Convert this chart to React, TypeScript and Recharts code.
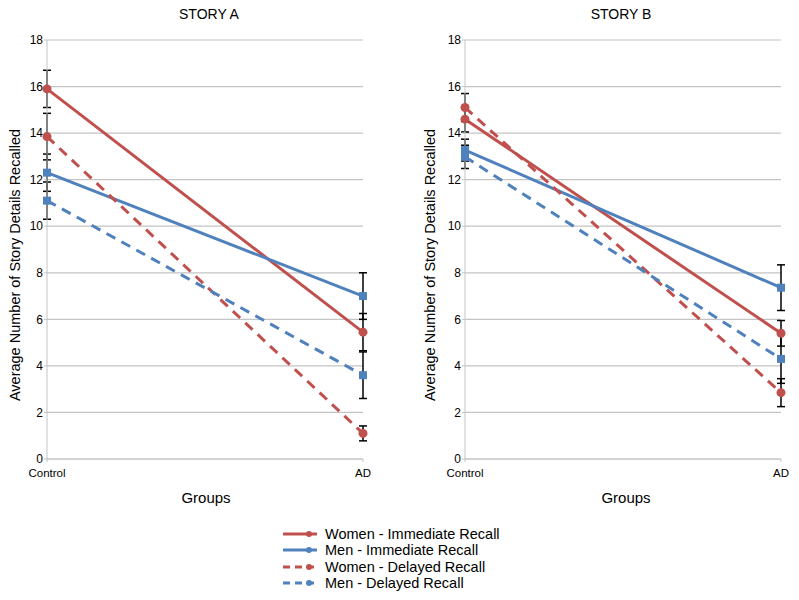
import React from 'react'
import { LineChart, Line, XAxis, YAxis, CartesianGrid, ErrorBar } from 'recharts'

const groups = ['Control', 'AD']
const yTicks = [0, 2, 4, 6, 8, 10, 12, 14, 16, 18]

// Story A
const womenImmA = [15.9, 5.45]
const womenImmErrA = [0.8, 0.8]
const menImmA = [12.3, 7.0]
const menImmErrA = [0.8, 1.0]
const womenDelA = [13.85, 1.1]
const womenDelErrA = [1.0, 0.32]
const menDelA = [11.1, 3.6]
const menDelErrA = [0.8, 1.0]

// Story B
const womenImmB = [14.6, 5.4]
const womenImmErrB = [0.55, 0.55]
const menImmB = [13.27, 7.36]
const menImmErrB = [0.47, 0.98]
const womenDelB = [15.1, 2.85]
const womenDelErrB = [0.6, 0.6]
const menDelB = [12.98, 4.3]
const menDelErrB = [0.5, 1.05]

const RED = '#c0504d'
const BLUE = '#4f81bd'
const FONT = '"Liberation Sans", Arial, sans-serif'

const seriesNames = [
  'Women - Immediate Recall',
  'Men - Immediate Recall',
  'Women - Delayed Recall',
  'Men - Delayed Recall',
]

function buildRows(
  wi: number[], wiE: number[], mi: number[], miE: number[],
  wd: number[], wdE: number[], md: number[], mdE: number[],
) {
  return groups.map((g, i) => ({
    group: g,
    wi: wi[i], wiErr: wiE[i],
    mi: mi[i], miErr: miE[i],
    wd: wd[i], wdErr: wdE[i],
    md: md[i], mdErr: mdE[i],
  }))
}

const dataA = buildRows(womenImmA, womenImmErrA, menImmA, menImmErrA, womenDelA, womenDelErrA, menDelA, menDelErrA)
const dataB = buildRows(womenImmB, womenImmErrB, menImmB, menImmErrB, womenDelB, womenDelErrB, menDelB, menDelErrB)

const squareDot = (props: any) => {
  const { cx, cy, index } = props
  if (cx == null || cy == null) return <g key={index} />
  return <rect key={index} x={cx - 4} y={cy - 4} width={8} height={8} fill={BLUE} />
}

const circleDot = { r: 4.5, fill: RED, stroke: RED, strokeWidth: 0 }

function StoryChart({ data, width, rightMargin }: { data: any[]; width: number; rightMargin: number }) {
  const errProps = { width: 4, stroke: '#000', strokeWidth: 1.5, direction: 'y' as const }
  return (
    <LineChart
      width={width}
      height={500}
      data={data}
      margin={{ top: 40, right: rightMargin, bottom: 11, left: 27 }}
    >
      <CartesianGrid vertical={false} stroke="#c4c4c4" strokeWidth={1.2} />
      <XAxis
        dataKey="group"
        height={30}
        axisLine={{ stroke: '#c4c4c4' }}
        tickLine={{ stroke: '#c4c4c4' }}
        tickSize={3}
        tickMargin={7}
        tick={{ fill: '#000', fontSize: 11.5, fontFamily: FONT }}
        interval={0}
      />
      <YAxis
        width={20}
        domain={[0, 18]}
        ticks={yTicks}
        axisLine={{ stroke: '#c4c4c4' }}
        tickLine={{ stroke: '#c4c4c4' }}
        tickSize={3}
        tickMargin={1}
        tick={{ fill: '#000', fontSize: 12, fontFamily: FONT }}
      />
      <Line dataKey="wi" stroke={RED} strokeWidth={3} dot={circleDot} activeDot={false} isAnimationActive={false}>
        <ErrorBar dataKey="wiErr" {...errProps} />
      </Line>
      <Line dataKey="mi" stroke={BLUE} strokeWidth={3} dot={squareDot} activeDot={false} isAnimationActive={false}>
        <ErrorBar dataKey="miErr" {...errProps} />
      </Line>
      <Line dataKey="wd" stroke={RED} strokeWidth={3} strokeDasharray="10 7" dot={circleDot} activeDot={false} isAnimationActive={false}>
        <ErrorBar dataKey="wdErr" {...errProps} />
      </Line>
      <Line dataKey="md" stroke={BLUE} strokeWidth={3} strokeDasharray="10 7" dot={squareDot} activeDot={false} isAnimationActive={false}>
        <ErrorBar dataKey="mdErr" {...errProps} />
      </Line>
    </LineChart>
  )
}

const textStyle: React.CSSProperties = {
  position: 'absolute',
  fontFamily: FONT,
  color: '#000',
  whiteSpace: 'nowrap',
  transform: 'translate(-50%, -50%)',
  lineHeight: 1,
}

function YLabel({ x }: { x: number }) {
  return (
    <div style={{ ...textStyle, left: x, top: 265, fontSize: 14.5, transform: 'translate(-50%, -50%) rotate(-90deg)' }}>
      Average Number of Story Details Recalled
    </div>
  )
}

const legendStyles = [
  { color: RED, dash: undefined },
  { color: BLUE, dash: undefined },
  { color: RED, dash: '7 5' },
  { color: BLUE, dash: '7 5' },
]

export default function App() {
  return (
    <div style={{ position: 'absolute', left: 0, top: 0, width: 799, height: 600, background: '#fff', overflow: 'hidden' }}>
      <div style={{ position: 'absolute', left: 0, top: 0 }}>
        <StoryChart data={dataA} width={400} rightMargin={37} />
      </div>
      <div style={{ position: 'absolute', left: 418, top: 0 }}>
        <StoryChart data={dataB} width={381} rightMargin={18} />
      </div>

      <div style={{ ...textStyle, left: 209, top: 14, fontSize: 14 }}>STORY A</div>
      <div style={{ ...textStyle, left: 621, top: 14, fontSize: 14 }}>STORY B</div>
      <YLabel x={15} />
      <YLabel x={430} />
      <div style={{ ...textStyle, left: 206, top: 497, fontSize: 15 }}>Groups</div>
      <div style={{ ...textStyle, left: 626, top: 497, fontSize: 15 }}>Groups</div>

      {seriesNames.map((name, i) => {
        const cy = 534 + i * 16.3
        const s = legendStyles[i]
        return (
          <React.Fragment key={name}>
            <svg style={{ position: 'absolute', left: 280, top: cy - 6 }} width={42} height={12}>
              <line x1={3} y1={6} x2={37} y2={6} stroke={s.color} strokeWidth={3} strokeDasharray={s.dash} />
              <circle cx={29} cy={6} r={3} fill={s.color} />
            </svg>
            <div style={{ ...textStyle, left: 325, top: cy, fontSize: 14.5, transform: 'translate(0, -50%)' }}>{name}</div>
          </React.Fragment>
        )
      })}
    </div>
  )
}
